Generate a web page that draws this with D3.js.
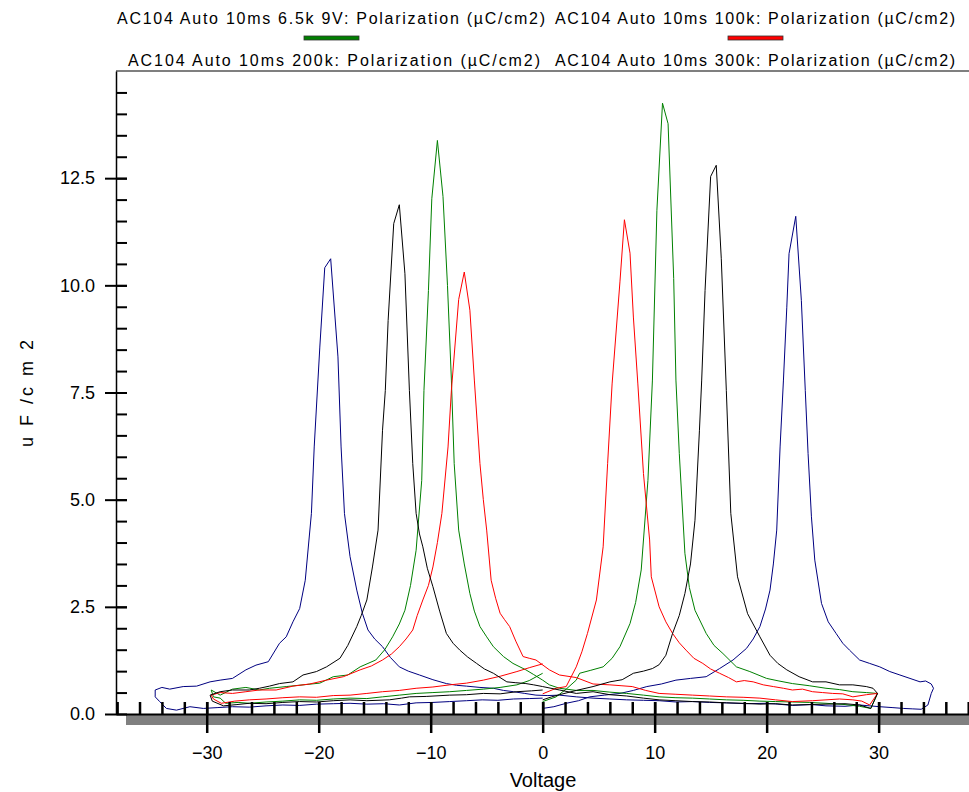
<!DOCTYPE html>
<html>
<head>
<meta charset="utf-8">
<script src="https://cdn.jsdelivr.net/npm/d3@7"></script>
<style>
body { margin: 0; background: #fff; }
svg text { font-family: "Liberation Sans", Arial, sans-serif; fill: #000; }
.legend text { font-family: "Liberation Sans Narrow", "Liberation Sans", Arial, sans-serif; font-size: 16px; }
.axis text { font-size: 18px; }
</style>
</head>
<body>
<svg id="chart" width="969" height="792"></svg>
<script>
const names = [
	"AC104 Auto 10ms 6.5k 9V: Polarization (\u00b5C/cm2)",
	"AC104 Auto 10ms 100k: Polarization (\u00b5C/cm2)",
	"AC104 Auto 10ms 200k: Polarization (\u00b5C/cm2)",
	"AC104 Auto 10ms 300k: Polarization (\u00b5C/cm2)"
]
const colors = ["#008000", "#ff0000", "#000080", "#000000"]

let xTicks = [-30, -20, -10, 0, 10, 20, 30]
let yTicks = [0, 2.5, 5, 7.5, 10, 12.5]

// each loop: [voltage, uF/cm2], sweep 0 -> +V, +V -> -V, -V -> 0

// 6.5k 9V (green)
const greenRise = [[0,0.29],[1.2,0.40],[2.1,0.58],[3.0,0.79],[3.3,0.95],[4.3,1.02],[5.4,1.10],[6.2,1.3],[6.9,1.57],[7.8,2.11],[8.3,2.6],[8.8,3.36],[9.4,5.45],[9.8,7.79],[10.2,11.75],[10.7,14.25],[11.2,13.77],[11.7,10.16],[11.9,7.79],[12.2,6.08],[12.7,3.75],[13.1,2.95],[13.6,2.42],[14.6,1.88],[15.3,1.6],[16.1,1.41],[17.3,1.10],[18.5,0.99],[20.0,0.83],[21.1,0.77],[22.3,0.71],[23.8,0.66],[25.3,0.60],[26.5,0.57],[27.7,0.52],[28.9,0.50],[29.9,0.48]]
const greenFall = [[29.3,0.13],[28.3,0.18],[27.0,0.22],[25.3,0.25],[23.8,0.27],[22.3,0.28],[20.8,0.29],[19.4,0.30],[17.9,0.32],[16.4,0.33],[14.9,0.35],[13.4,0.37],[11.9,0.38],[10.4,0.40],[9.0,0.44],[7.5,0.48],[6.0,0.51],[4.5,0.55],[3.0,0.55],[1.5,0.60],[0.6,0.68],[0,0.79],[-0.8,0.92],[-1.5,1.03],[-2.65,1.18],[-3.5,1.34],[-4.4,1.57],[-5.0,1.8],[-5.6,2.04],[-6.1,2.4],[-6.5,2.81],[-7.0,3.5],[-7.5,4.29],[-7.9,5.84],[-8.15,7.79],[-8.5,10.0],[-8.9,12.07],[-9.4,13.38],[-9.9,12.02],[-10.2,9.88],[-10.6,7.55],[-10.8,5.45],[-11.3,3.82],[-11.8,3.0],[-12.3,2.42],[-12.8,2.1],[-13.4,1.80],[-14.1,1.5],[-14.9,1.26],[-15.6,1.18],[-16.3,1.10],[-17.4,0.91],[-18.7,0.87],[-19.9,0.72],[-21.4,0.68],[-22.9,0.64],[-24.4,0.60],[-25.3,0.56],[-26.5,0.62],[-27.7,0.58],[-28.8,0.44],[-29.6,0.56]]
const greenBack = [[-29.4,0.40],[-28.8,0.37],[-28.3,0.25],[-27.2,0.27],[-26.2,0.25],[-24.7,0.28],[-23.2,0.30],[-21.7,0.33],[-20.2,0.32],[-18.7,0.35],[-17.2,0.37],[-15.7,0.36],[-14.3,0.40],[-12.8,0.44],[-11.3,0.48],[-9.8,0.50],[-8.3,0.52],[-6.8,0.55],[-5.3,0.58],[-3.8,0.62],[-2.3,0.68],[-1.2,0.78],[0,0.95]]

// 100k (red)
const redRise = [[0,0.47],[1.2,0.60],[2.1,0.64],[3.0,1.10],[3.5,1.45],[4.0,1.88],[4.8,2.66],[5.4,3.90],[5.8,5.84],[6.2,7.7],[6.9,10.08],[7.3,11.53],[7.8,10.75],[8.1,9.26],[8.5,7.7],[9.0,5.61],[9.55,4.06],[9.7,3.20],[10.4,2.50],[11.0,2.15],[11.6,1.88],[12.2,1.66],[12.8,1.49],[13.5,1.30],[14.3,1.18],[15.0,1.05],[15.8,0.95],[16.6,0.85],[17.3,0.75],[18.0,0.78],[18.8,0.75],[19.7,0.68],[20.6,0.64],[21.5,0.60],[22.3,0.56],[23.2,0.58],[24.1,0.52],[25.0,0.50],[25.9,0.48],[26.8,0.47],[27.7,0.40],[28.9,0.45],[29.9,0.48]]
const redFall = [[29.2,0.21],[28.5,0.30],[27.7,0.33],[26.5,0.35],[25.3,0.33],[24.1,0.31],[22.3,0.29],[20.8,0.33],[19.4,0.37],[17.9,0.39],[16.4,0.40],[14.9,0.42],[13.4,0.44],[11.9,0.46],[10.4,0.48],[9.2,0.55],[8.0,0.64],[7.0,0.66],[6.0,0.68],[4.5,0.70],[3.0,0.85],[1.5,0.91],[0.6,1.03],[-0.6,1.26],[-1.2,1.30],[-1.75,1.34],[-2.4,1.7],[-2.95,2.04],[-3.4,2.2],[-3.8,2.35],[-4.2,2.7],[-4.6,3.12],[-5.0,4.29],[-5.3,5.0],[-5.6,5.84],[-6.1,7.79],[-6.5,9.42],[-7.0,10.31],[-7.5,9.67],[-8.15,7.55],[-8.45,6.23],[-9.0,4.68],[-9.4,4.0],[-9.8,3.43],[-10.2,3.0],[-10.7,2.66],[-11.2,2.3],[-11.6,1.96],[-12.2,1.75],[-12.8,1.57],[-13.5,1.4],[-14.3,1.26],[-15.3,1.12],[-16.3,1.03],[-17.8,0.87],[-19.3,0.79],[-20.8,0.70],[-22.3,0.65],[-23.8,0.56],[-25.3,0.56],[-26.5,0.52],[-27.7,0.48],[-28.8,0.50],[-29.6,0.44]]
const redBack = [[-29.4,0.35],[-28.7,0.25],[-27.5,0.30],[-26.2,0.33],[-24.7,0.35],[-23.2,0.38],[-21.7,0.40],[-20.2,0.39],[-18.7,0.43],[-17.2,0.44],[-15.7,0.48],[-14.3,0.52],[-12.8,0.55],[-11.3,0.60],[-9.8,0.63],[-8.3,0.68],[-6.8,0.72],[-5.3,0.79],[-3.8,0.88],[-2.3,0.99],[-1.2,1.08],[0,1.17]]

// 200k (blue)
const blueRise = [[0,0.13],[1,0.17],[2.1,0.25],[3.2,0.31],[4.2,0.40],[5.5,0.44],[6.9,0.48],[8.1,0.55],[9.3,0.64],[10.6,0.70],[11.9,0.79],[13.2,0.83],[14.6,0.87],[15.8,1.06],[17.0,1.26],[18.2,1.53],[18.8,1.75],[19.4,2.04],[19.9,2.45],[20.3,2.89],[20.6,3.5],[20.9,4.29],[21.2,6.23],[21.5,7.79],[21.8,9.49],[22.0,10.74],[22.6,11.61],[23.1,9.65],[23.45,7.55],[23.7,6.08],[24.0,4.6],[24.3,3.59],[24.9,2.58],[25.5,2.15],[26.2,1.88],[26.8,1.65],[27.4,1.49],[28.3,1.26],[29.2,1.18],[30.1,1.10],[31.0,0.99],[31.9,0.91],[32.8,0.83],[33.7,0.75],[34.2,0.77],[34.7,0.70],[34.9,0.60]]
const blueFall = [[34.7,0.48],[34.4,0.21],[33.8,0.11],[33.0,0.12],[32.2,0.13],[31.2,0.15],[30.1,0.17],[29.2,0.19],[28.3,0.21],[27.0,0.18],[25.3,0.19],[24.0,0.22],[22.3,0.20],[21.0,0.23],[20.0,0.25],[18.2,0.24],[16.4,0.26],[14.9,0.27],[13.4,0.29],[11.9,0.28],[10.4,0.31],[9.0,0.32],[7.5,0.33],[6.0,0.35],[4.5,0.37],[3.0,0.40],[1.5,0.44],[0.4,0.43],[-0.6,0.44],[-1.6,0.48],[-2.6,0.52],[-3.5,0.55],[-4.4,0.60],[-5.6,0.62],[-6.8,0.65],[-7.7,0.67],[-8.6,0.71],[-9.8,0.80],[-11.0,0.91],[-12.0,1.00],[-12.8,1.10],[-13.6,1.32],[-14.3,1.57],[-15.0,1.75],[-15.6,1.96],[-16.1,2.35],[-16.6,2.89],[-17.2,3.67],[-17.7,4.68],[-18.0,6.23],[-18.28,8.33],[-18.93,10.62],[-19.46,10.41],[-19.9,8.56],[-20.4,6.23],[-20.65,4.68],[-21.2,3.12],[-21.7,2.46],[-22.3,2.15],[-22.9,1.80],[-23.5,1.65],[-24.5,1.22],[-25.6,1.14],[-26.5,1.03],[-27.7,0.83],[-28.8,0.79],[-29.7,0.75],[-30.9,0.65],[-32.1,0.64],[-33.3,0.58],[-34.0,0.62],[-34.6,0.56]]
const blueBack = [[-34.6,0.40],[-34.2,0.29],[-33.6,0.13],[-32.7,0.09],[-31.5,0.17],[-30.3,0.13],[-29.0,0.15],[-27.7,0.17],[-26.2,0.16],[-24.7,0.19],[-23.2,0.21],[-21.7,0.20],[-20.2,0.23],[-18.7,0.24],[-17.2,0.25],[-15.7,0.23],[-14.2,0.24],[-12.8,0.21],[-11.3,0.26],[-9.8,0.27],[-8.3,0.29],[-6.8,0.31],[-5.4,0.33],[-4.0,0.32],[-2.6,0.35],[-1.2,0.36],[0,0.37]]

// 300k (black)
const blackRise = [[0,0.33],[0.8,0.40],[1.5,0.45],[3.0,0.55],[4.5,0.64],[6.0,0.75],[7.1,0.80],[8.1,0.95],[9.0,1.0],[9.8,1.06],[10.4,1.15],[11.0,1.37],[11.6,1.88],[12.2,2.3],[12.7,2.81],[13.2,3.5],[13.6,4.52],[14.0,6.62],[14.2,7.79],[14.5,9.88],[15.0,12.54],[15.5,12.80],[15.95,10.62],[16.4,7.55],[16.8,4.68],[17.4,3.20],[18.3,2.34],[19.4,1.80],[20.3,1.37],[21.0,1.18],[21.8,1.03],[22.9,0.87],[24.1,0.75],[25.3,0.75],[26.5,0.68],[27.7,0.68],[28.9,0.64],[29.5,0.60],[29.9,0.48]]
const blackFall = [[29.3,0.13],[28.3,0.21],[27.0,0.24],[25.3,0.23],[23.8,0.22],[22.3,0.21],[20.8,0.24],[19.4,0.23],[17.9,0.25],[16.4,0.26],[14.9,0.28],[13.4,0.29],[11.9,0.31],[10.4,0.33],[9.0,0.37],[7.5,0.42],[6.0,0.45],[4.5,0.52],[3.0,0.48],[1.5,0.56],[0,0.64],[-0.8,0.68],[-1.5,0.71],[-2.4,0.73],[-3.2,0.75],[-4.4,0.95],[-5.2,1.05],[-5.9,1.18],[-6.7,1.33],[-7.4,1.49],[-8.0,1.65],[-8.6,1.88],[-9.2,2.4],[-9.8,2.97],[-10.3,3.4],[-10.7,3.90],[-11.0,4.2],[-11.3,4.68],[-11.6,5.84],[-11.9,7.55],[-12.3,10.27],[-12.8,11.88],[-13.3,11.44],[-13.8,9.18],[-14.05,7.55],[-14.3,6.62],[-14.7,4.29],[-15.2,3.43],[-15.7,2.66],[-16.2,2.3],[-16.6,2.04],[-17.4,1.6],[-18.1,1.30],[-19.3,1.10],[-20.2,0.99],[-21.4,0.91],[-22.3,0.75],[-23.5,0.71],[-24.4,0.65],[-25.3,0.60],[-26.2,0.56],[-27.7,0.56],[-28.8,0.52],[-29.7,0.44]]
const blackBack = [[-29.5,0.30],[-28.5,0.19],[-27.3,0.22],[-26.2,0.25],[-24.7,0.24],[-23.2,0.27],[-21.7,0.29],[-20.2,0.28],[-18.7,0.31],[-17.2,0.33],[-15.7,0.31],[-13.7,0.33],[-12.6,0.37],[-11.9,0.40],[-10.4,0.41],[-8.3,0.44],[-6.8,0.45],[-5.3,0.48],[-3.8,0.47],[-2.3,0.52],[-1.0,0.54],[0,0.56]]

const svg = d3.select('#chart')

let xScale = d3.scaleLinear()
	.domain([-38.1, 38.07])
	.range([116, 969])

let yScale = d3.scaleLinear()
	.domain([0, 15])
	.range([714, 71])

let line = d3.line()
	.x(d => xScale(d[0]))
	.y(d => yScale(d[1]))

function setupChart(){
	//LEGEND
	let legend = svg.append("g").attr("class", "legend")
	let legX = [331, 755, 334, 755]
	let legY = [24, 24, 66, 66]
	let legW = [428, 400, 412, 400]
	for (var i = 0; i<4; i++){
		legend.append("text")
			.attr("x", legX[i])
			.attr("y", legY[i])
			.attr("text-anchor", "middle")
			.attr("textLength", legW[i])
			.attr("lengthAdjust", "spacing")
			.text(names[i])
	}
	for (var i = 0; i<2; i++){
		legend.append("rect")
			.attr("x", legX[i] - 27)
			.attr("y", 36)
			.attr("width", 55)
			.attr("height", 4)
			.attr("fill", colors[i])
			.attr("stroke", "#333")
			.attr("stroke-width", 0.8)
	}

	// frame top
	svg.append("line")
		.attr("x1", 116).attr("x2", 969)
		.attr("y1", 71).attr("y2", 71)
		.attr("stroke", "#000")
		.attr("stroke-width", 1.2)

	// grey floor under the x axis
	svg.append("rect")
		.attr("x", 126)
		.attr("y", 715)
		.attr("width", 969 - 126)
		.attr("height", 10)
		.attr("fill", "#808080")

	//LOOPS
	let loops = [
		greenRise.concat(greenFall, greenBack),
		redRise.concat(redFall, redBack),
		blueRise.concat(blueFall, blueBack),
		blackRise.concat(blackFall, blackBack)
	]
	let order = [2, 0, 1, 3]
	for (var j = 0; j<4; j++){
		var k = order[j]
		svg.append("path")
			.datum(loops[k])
			.attr("fill", "none")
			.attr("stroke", colors[k])
			.attr("stroke-width", 1)
			.attr("stroke-linejoin", "round")
			.attr("d", line)
	}

	//AXES
	let xMinor = d3.range(-38, 38.1, 2)
	let xMinorG = svg.append("g")
		.attr("class", "axis")
		.attr("transform", "translate(0,714)")
		.call(d3.axisTop(xScale).tickValues(xMinor).tickSize(12).tickFormat(""))
	xMinorG.select(".domain").remove()
	xMinorG.selectAll(".tick line").attr("stroke-width", 2.5)

	let xG = svg.append("g")
		.attr("class", "axis")
		.attr("transform", "translate(0,714)")
		.call(d3.axisBottom(xScale).tickValues(xTicks).tickSize(19).tickSizeOuter(0).tickPadding(13).tickFormat(d3.format("d")))
	xG.select(".domain").attr("stroke-width", 2)
	xG.selectAll(".tick line").attr("y1", -12).attr("stroke-width", 2.5)
	xG.selectAll(".tick text").style("font-size", "18px")

	let yMinor = d3.range(0.5, 15, 0.5)
	let yMinorG = svg.append("g")
		.attr("class", "axis")
		.attr("transform", "translate(116,0)")
		.call(d3.axisRight(yScale).tickValues(yMinor).tickSize(11).tickFormat(""))
	yMinorG.select(".domain").remove()
	yMinorG.selectAll(".tick line").attr("stroke-width", 2)

	let yG = svg.append("g")
		.attr("class", "axis")
		.attr("transform", "translate(116,0)")
		.call(d3.axisLeft(yScale).tickValues(yTicks).tickSize(11).tickSizeOuter(0).tickPadding(10).tickFormat(d3.format(".1f")))
	yG.select(".domain").attr("stroke-width", 1.5)
	yG.selectAll(".tick line").attr("x1", 11).attr("stroke-width", 2)
	yG.selectAll(".tick text").style("font-size", "18px")

	svg.append("text")
		.attr("x", 543)
		.attr("y", 787)
		.attr("text-anchor", "middle")
		.style("font-size", "20px")
		.text("Voltage")

	svg.append("text")
		.attr("transform", "translate(33,392) rotate(-90)")
		.attr("text-anchor", "middle")
		.style("font-size", "18px")
		.style("letter-spacing", "3px")
		.text("u F /c m 2")
}

setupChart()
</script>
</body>
</html>
